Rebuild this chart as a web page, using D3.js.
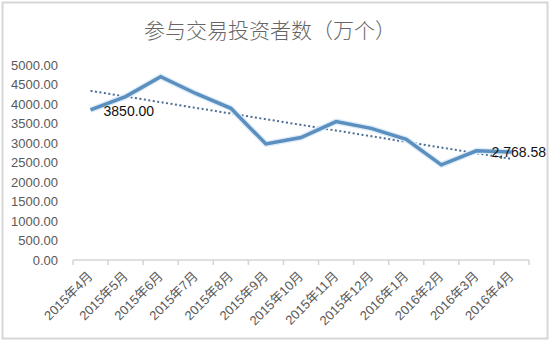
<!DOCTYPE html>
<html>
<head>
<meta charset="utf-8">
<script src="https://cdn.jsdelivr.net/npm/d3@7"></script>
<style>
  body { margin: 0; background: #fff; }
  svg { display: block; }
</style>
</head>
<body>
<svg id="chart"></svg>
<script>
// data
const months = ['2015年4月', '2015年5月', '2015年6月', '2015年7月', '2015年8月', '2015年9月',
  '2015年10月', '2015年11月', '2015年12月', '2016年1月', '2016年2月', '2016年3月', '2016年4月'];
const investors = [3850, 4190, 4700, 4270, 3890, 2975, 3140, 3550, 3375, 3095, 2440, 2800, 2768.58];
const yTicks = [0, 500, 1000, 1500, 2000, 2500, 3000, 3500, 4000, 4500, 5000];
const title = '参与交易投资者数（万个）';

const cfg = {
  width: 550,
  height: 341,
  left: 73,
  right: 529,
  top: 65,
  bottom: 260,
  lineColor: '#5b8fbf',
  trendColor: '#4a6e95',
  axisColor: '#d4d4d4',
  textColor: '#595959',
  font: '"Liberation Sans", "Noto Sans CJK SC", sans-serif',
};

const svg = d3.select('#chart')
  .attr('width', cfg.width)
  .attr('height', cfg.height);

// outer frame
svg.append('rect')
  .attr('x', 2.5).attr('y', 2.5)
  .attr('width', 545).attr('height', 336)
  .attr('fill', '#fff')
  .attr('stroke', '#d6d6d6')
  .attr('stroke-width', 2);

// title
svg.append('text')
  .text(title)
  .attr('x', 270)
  .attr('y', 38)
  .attr('text-anchor', 'middle')
  .style('font-family', '"Noto Sans CJK SC", sans-serif')
  .style('font-size', '21px')
  .style('font-weight', 300)
  .style('fill', '#666');

// scales
const x = d3.scaleBand()
  .domain(months)
  .range([cfg.left, cfg.right]);

const y = d3.scaleLinear()
  .domain([0, 5000])
  .range([cfg.bottom, cfg.top]);

const cx = d => x(d) + x.bandwidth() / 2;

// y axis labels (no axis line)
const yAxis = svg.append('g')
  .attr('transform', 'translate(' + (cfg.left - 15) + ',0)')
  .call(d3.axisLeft(y).tickValues(yTicks).tickSize(0).tickPadding(0).tickFormat(d3.format('.2f')));
yAxis.select('.domain').remove();
yAxis.selectAll('text')
  .style('font-family', cfg.font)
  .style('font-size', '13px')
  .style('fill', cfg.textColor);

// x axis with ticks between categories
const xAxis = svg.append('g')
  .attr('transform', 'translate(0,' + cfg.bottom + ')');
xAxis.append('line')
  .attr('x1', cfg.left).attr('x2', cfg.right)
  .attr('stroke', cfg.axisColor)
  .attr('stroke-width', 1.5);
xAxis.selectAll('.tick')
  .data(months.concat(['end']))
  .enter()
  .append('line')
  .attr('x1', (d, i) => i < months.length ? x(d) : cfg.right)
  .attr('x2', (d, i) => i < months.length ? x(d) : cfg.right)
  .attr('y2', 5)
  .attr('stroke', cfg.axisColor)
  .attr('stroke-width', 1.5);

xAxis.selectAll('.label')
  .data(months)
  .enter()
  .append('text')
  .text(d => d)
  .attr('transform', d => 'translate(' + (cx(d) + 3) + ',17) rotate(-45)')
  .attr('text-anchor', 'end')
  .style('font-family', cfg.font)
  .style('font-size', '13px')
  .style('fill', cfg.textColor);

// trend line (least squares over month index)
const n = investors.length;
const meanI = d3.mean(investors, (d, i) => i);
const meanV = d3.mean(investors);
const slope = d3.sum(investors, (d, i) => (i - meanI) * (d - meanV)) /
  d3.sum(investors, (d, i) => (i - meanI) * (i - meanI));
const intercept = meanV - slope * meanI;

svg.append('line')
  .attr('x1', cx(months[0]))
  .attr('x2', cx(months[n - 1]))
  .attr('y1', y(intercept))
  .attr('y2', y(intercept + slope * (n - 1)))
  .attr('stroke', cfg.trendColor)
  .attr('stroke-width', 2)
  .attr('stroke-dasharray', '2,2.5');

// main series
const line = d3.line()
  .x((d, i) => cx(months[i]))
  .y(d => y(d));

svg.append('path')
  .datum(investors)
  .attr('d', line)
  .attr('fill', 'none')
  .attr('stroke', '#dcebf7')
  .attr('stroke-width', 6)
  .attr('stroke-linejoin', 'round');

svg.append('path')
  .datum(investors)
  .attr('d', line)
  .attr('fill', 'none')
  .attr('stroke', cfg.lineColor)
  .attr('stroke-width', 3.5)
  .attr('stroke-linejoin', 'miter');

// data labels on first and last point
svg.append('text')
  .text(d3.format('.2f')(investors[0]))
  .attr('x', cx(months[0]) + 13)
  .attr('y', y(investors[0]) + 6)
  .style('font-family', cfg.font)
  .style('font-size', '14px')
  .style('fill', '#111');

svg.append('text')
  .text(d3.format(',.2f')(investors[n - 1]))
  .attr('x', cx(months[n - 1]) - 20)
  .attr('y', y(investors[n - 1]) + 5)
  .style('font-family', cfg.font)
  .style('font-size', '14px')
  .style('fill', '#111');
</script>
</body>
</html>
